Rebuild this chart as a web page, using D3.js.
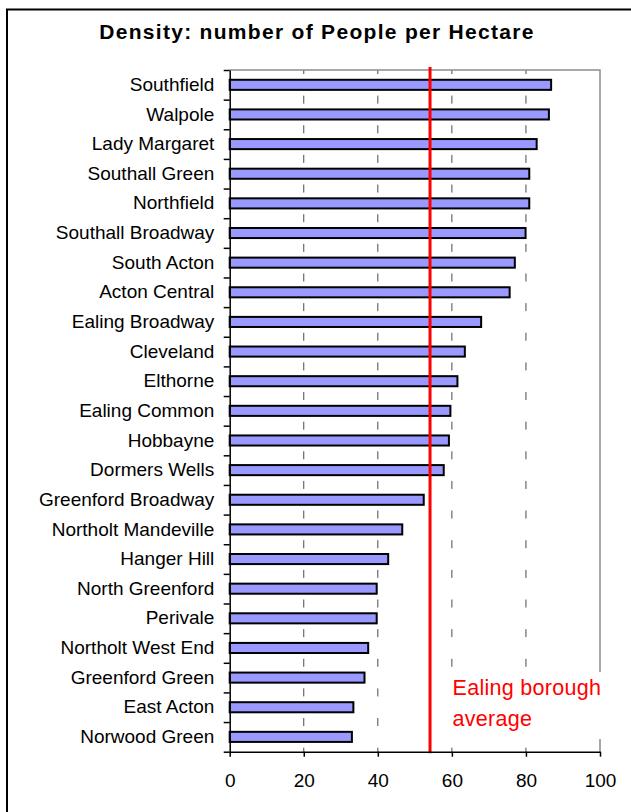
<!DOCTYPE html>
<html>
<head>
<meta charset="utf-8">
<script src="https://cdn.jsdelivr.net/npm/d3@7"></script>
<style>
  html, body { margin: 0; padding: 0; background: #ffffff; }
  svg { display: block; font-family: "Liberation Sans", Arial, sans-serif; }
</style>
</head>
<body>
<svg id="chart" width="631" height="812"></svg>
<script>
// Ward names, ordered from densest to least dense
const wards = [
  "Southfield", "Walpole", "Lady Margaret", "Southall Green", "Northfield",
  "Southall Broadway", "South Acton", "Acton Central", "Ealing Broadway",
  "Cleveland", "Elthorne", "Ealing Common", "Hobbayne", "Dormers Wells",
  "Greenford Broadway", "Northolt Mandeville", "Hanger Hill", "North Greenford",
  "Perivale", "Northolt West End", "Greenford Green", "East Acton", "Norwood Green"
];

// People per hectare for each ward (same order as wards)
const density = [
  86.8, 86.2, 82.9, 80.9, 80.9,
  79.9, 77.0, 75.6, 67.9,
  63.5, 61.5, 59.6, 59.2, 57.8,
  52.4, 46.6, 42.8, 39.7,
  39.7, 37.4, 36.4, 33.4, 33.0
];

// Borough-wide average density
const boroughAverage = 54.1;

const xTicks = [0, 20, 40, 60, 80, 100];
const titleText = "Density: number of People per Hectare";
const noteLines = ["Ealing borough", "average"];

const W = 631, H = 812;
const plot = { left: 229.7, right: 600, top: 70, bottom: 751.7 };

const svg = d3.select("#chart");

// Outer frame
svg.append("rect")
  .attr("x", 7).attr("y", 9.5)
  .attr("width", 700).attr("height", 900)
  .attr("fill", "none").attr("stroke", "#000").attr("stroke-width", 2);

// Title
svg.append("text")
  .attr("x", 317).attr("y", 39)
  .attr("text-anchor", "middle")
  .attr("font-weight", "bold")
  .attr("font-size", 21)
  .attr("letter-spacing", 1.3)
  .attr("fill", "#000")
  .text(titleText);

const x = d3.scaleLinear().domain([0, 100]).range([plot.left, plot.right]);
const y = d3.scaleBand()
  .domain(wards)
  .range([plot.top, plot.bottom])
  .paddingInner(0.66)
  .paddingOuter(0.33);

const step = y.step();

// Dashed vertical gridlines (dashes fall between the bars)
svg.append("g")
  .selectAll("line")
  .data(xTicks.filter(t => t > 0 && t < 100))
  .join("line")
  .attr("x1", d => x(d)).attr("x2", d => x(d))
  .attr("y1", plot.top).attr("y2", plot.bottom)
  .attr("stroke", "#4a4a4a")
  .attr("stroke-width", 1)
  .attr("stroke-dasharray", `8,${step - 8}`)
  .attr("stroke-dashoffset", 4);

// Plot area border (top and right)
svg.append("path")
  .attr("d", `M${plot.left},${plot.top}H${plot.right}V${plot.bottom}`)
  .attr("fill", "none")
  .attr("stroke", "#8c8c8c")
  .attr("stroke-width", 1.5);

// Bars
svg.append("g")
  .selectAll("rect")
  .data(wards.map((w, i) => ({ ward: w, value: density[i] })))
  .join("rect")
  .attr("x", x(0))
  .attr("y", d => y(d.ward))
  .attr("width", d => x(d.value) - x(0))
  .attr("height", y.bandwidth())
  .attr("fill", "#9999ff")
  .attr("stroke", "#000")
  .attr("stroke-width", 2);

// Background panel behind the average note
svg.append("rect")
  .attr("x", 440).attr("y", 672)
  .attr("width", 172).attr("height", 67)
  .attr("fill", "#ffffff");

// Borough average line
svg.append("line")
  .attr("x1", x(boroughAverage)).attr("x2", x(boroughAverage))
  .attr("y1", plot.top - 3).attr("y2", plot.bottom + 1.5)
  .attr("stroke", "#ff0000")
  .attr("stroke-width", 3);

// Note text
svg.append("g")
  .selectAll("text")
  .data(noteLines)
  .join("text")
  .attr("x", 452.5)
  .attr("y", (d, i) => 694.5 + i * 31)
  .attr("font-size", 21.5)
  .attr("letter-spacing", 0.3)
  .attr("fill", "#ff0000")
  .text(d => d);

// Category axis: labels
const yAxis = svg.append("g")
  .attr("transform", `translate(${plot.left},0)`)
  .call(d3.axisLeft(y).tickSize(0).tickPadding(15.4));
yAxis.select(".domain").remove();
yAxis.selectAll("text")
  .attr("font-size", 19)
  .attr("font-family", "'Liberation Sans', Arial, sans-serif")
  .attr("fill", "#000");

// Category axis: boundary tick marks and spine
const edge = d3.scaleLinear().domain([0, wards.length]).range([plot.top, plot.bottom]);
const yEdges = svg.append("g")
  .attr("transform", `translate(${plot.left},0)`)
  .call(d3.axisLeft(edge)
    .tickValues(d3.range(wards.length + 1))
    .tickSize(6)
    .tickSizeOuter(0)
    .tickFormat(""));
yEdges.select(".domain").attr("stroke", "#000").attr("stroke-width", 1.5);
yEdges.selectAll(".tick line").attr("stroke", "#000").attr("stroke-width", 1.5);

// Value axis
const xAxis = svg.append("g")
  .attr("transform", `translate(0,${plot.bottom})`)
  .call(d3.axisBottom(x)
    .tickValues(xTicks)
    .tickSize(5)
    .tickSizeOuter(0)
    .tickPadding(17));
xAxis.select(".domain").attr("stroke", "#000").attr("stroke-width", 1.5);
xAxis.selectAll(".tick line").attr("stroke", "#000").attr("stroke-width", 1.5);
xAxis.selectAll("text")
  .attr("font-size", 19)
  .attr("font-family", "'Liberation Sans', Arial, sans-serif")
  .attr("fill", "#000");
</script>
</body>
</html>
